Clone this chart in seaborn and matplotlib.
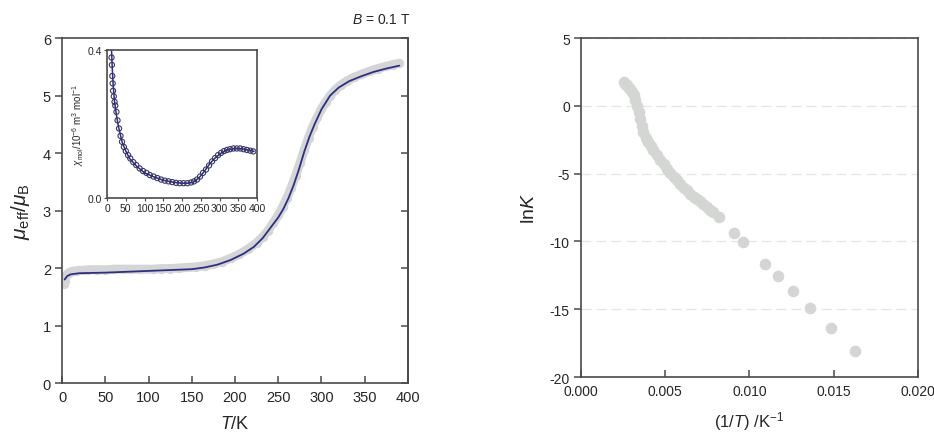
import numpy as np
import pandas as pd
import matplotlib
matplotlib.use("Agg")
import matplotlib.pyplot as plt
import seaborn as sns

# main panel: effective magnetic moment vs temperature (data + fit)
T_data = [2, 3, 5, 8, 12, 16, 20, 25, 30, 40, 50, 60, 70, 80, 90, 105, 115, 125, 135, 145,
          155, 165, 175, 185, 195, 205, 215, 225, 232, 238, 244, 250, 255, 260, 265, 270,
          275, 280, 285, 290, 295, 300, 305, 310, 316, 322, 330, 338, 346, 355, 365, 375,
          383, 390]
mu_data = [1.72, 1.78, 1.88, 1.92, 1.94, 1.95, 1.96, 1.96, 1.97, 1.97, 1.97, 1.98, 1.98,
           1.98, 1.98, 1.98, 1.99, 1.99, 2.00, 2.01, 2.02, 2.04, 2.07, 2.11, 2.17, 2.24,
           2.33, 2.44, 2.54, 2.65, 2.78, 2.92, 3.06, 3.22, 3.40, 3.60, 3.82, 4.05, 4.27,
           4.46, 4.62, 4.77, 4.89, 5.00, 5.10, 5.18, 5.26, 5.32, 5.37, 5.42, 5.47, 5.51,
           5.54, 5.56]

T_fit = [3, 6, 10, 20, 50, 100, 150, 165, 180, 195, 210, 222, 232, 242, 250, 256, 262, 268,
         274, 280, 286, 292, 300, 310, 320, 332, 345, 360, 375, 390]
mu_fit = [1.80, 1.86, 1.89, 1.91, 1.92, 1.95, 1.98, 2.01, 2.06, 2.14, 2.25, 2.37, 2.52,
          2.72, 2.88, 3.03, 3.22, 3.45, 3.72, 4.02, 4.28, 4.50, 4.76, 5.00, 5.14, 5.25,
          5.33, 5.41, 5.47, 5.52]

# inset: molar susceptibility vs temperature
T_chi = [12, 13, 14, 15, 16, 18, 20, 22, 25, 28, 32, 36, 40, 45, 50, 56, 62, 70, 78, 87,
         96, 105, 114, 124, 134, 144, 154, 164, 174, 184, 194, 204, 214, 224, 232, 240,
         248, 256, 264, 272, 280, 288, 296, 304, 312, 320, 328, 337, 346, 355, 364, 373,
         382, 390]
chi_data = [0.38, 0.36, 0.33, 0.31, 0.29, 0.275, 0.26, 0.25, 0.233, 0.21, 0.188, 0.168,
            0.152, 0.138, 0.127, 0.116, 0.107, 0.097, 0.089, 0.080, 0.073, 0.068, 0.062,
            0.058, 0.054, 0.050, 0.047, 0.045, 0.043, 0.041, 0.040, 0.040, 0.040, 0.042,
            0.045, 0.050, 0.058, 0.068, 0.077, 0.088, 0.099, 0.108, 0.116, 0.122, 0.127,
            0.130, 0.132, 0.134, 0.134, 0.134, 0.132, 0.130, 0.128, 0.126]
T_chi_fit = [8, 10, 12, 14, 16, 20, 25, 30, 40, 50, 60, 80, 100, 125, 150, 175, 200, 215,
             230, 245, 260, 275, 290, 305, 320, 340, 360, 380, 392]
chi_fit = [0.60, 0.48, 0.40, 0.35, 0.31, 0.26, 0.225, 0.195, 0.152, 0.127, 0.107, 0.085,
           0.068, 0.057, 0.048, 0.043, 0.040, 0.040, 0.043, 0.054, 0.073, 0.094, 0.110,
           0.122, 0.130, 0.134, 0.133, 0.129, 0.126]

# right panel: lnK vs 1/T
inv_T = [0.00253, 0.00262, 0.00272, 0.00282, 0.00292, 0.00302, 0.00312, 0.00322, 0.00332,
         0.00342, 0.00351, 0.00361, 0.00371, 0.00385, 0.00400, 0.00415, 0.00430, 0.00450,
         0.00470, 0.00490, 0.00509, 0.00530, 0.00550, 0.00569, 0.00590, 0.00610, 0.00628,
         0.00650, 0.00670, 0.00687, 0.00705, 0.00725, 0.00746, 0.00766, 0.00786, 0.00817,
         0.00910, 0.00963, 0.01092, 0.01167, 0.01256, 0.01362, 0.01483, 0.01629]
lnK = [1.76, 1.65, 1.52, 1.39, 1.22, 1.02, 0.77, 0.42, 0.03, -0.48, -0.95, -1.45, -1.93,
       -2.35, -2.65, -2.98, -3.25, -3.62, -3.98, -4.32, -4.64, -4.95, -5.23, -5.50, -5.76,
       -6.02, -6.23, -6.48, -6.70, -6.85, -7.05, -7.25, -7.46, -7.65, -7.83, -8.20, -9.36,
       -10.04, -11.64, -12.55, -13.66, -14.90, -16.39, -18.10]

sns.set_theme(style="ticks")
plt.rcParams['font.family'] = ['Liberation Sans', 'DejaVu Sans']
plt.rcParams['mathtext.fontset'] = 'custom'
plt.rcParams['mathtext.rm'] = 'Liberation Sans'
plt.rcParams['mathtext.it'] = 'Liberation Sans:italic'
plt.rcParams['mathtext.bf'] = 'Liberation Sans:bold'
plt.rcParams['axes.unicode_minus'] = False

gray = '#d3d6d3'
navy = '#2d2d8a'
spine_c = '#4a4a4a'

fig = plt.figure(figsize=(9.34, 4.35), dpi=100)
ax1 = fig.add_axes([0.0664, 0.1172, 0.3704, 0.793])
ax_in = fig.add_axes([0.1146, 0.5425, 0.1606, 0.340])
ax2 = fig.add_axes([0.622, 0.131, 0.3608, 0.779])

for a in (ax1, ax_in, ax2):
    for s in a.spines.values():
        s.set_color(spine_c)
        s.set_linewidth(1.2)

# main panel
df_main = pd.DataFrame({'T': T_data, 'mu': mu_data})
df_fit = pd.DataFrame({'T': T_fit, 'mu': mu_fit})
sns.lineplot(data=df_main, x='T', y='mu', ax=ax1, color=gray, linewidth=6.5,
             solid_capstyle='round', sort=False)
sns.scatterplot(data=df_main, x='T', y='mu', ax=ax1, color=gray, s=45, linewidth=0)
sns.lineplot(data=df_fit, x='T', y='mu', ax=ax1, color=navy, linewidth=1.3, sort=False)
ax1.set_xlim(0, 400)
ax1.set_ylim(0, 6)
ax1.set_xticks(range(0, 401, 50))
ax1.set_yticks(range(0, 7))
ax1.tick_params(axis='y', direction='out', length=5, width=1.1, color=spine_c,
                labelsize=10.5, pad=3)
ax1.tick_params(axis='x', direction='in', length=5, width=1.1, color=spine_c,
                labelsize=10.5, pad=5)
sec = ax1.secondary_yaxis('right')
sec.set_yticks(range(0, 7))
sec.tick_params(direction='in', length=5, width=1.1, color=spine_c, labelright=False)
sec.spines['right'].set_color(spine_c)
sec.spines['right'].set_linewidth(1.2)
ax1.set_xlabel(r'$T$/K', fontsize=13, labelpad=8)
ax1.set_ylabel(r'$\mu_{\rm eff}/\mu_{\rm B}$', fontsize=15, labelpad=8)
fig.text(0.408, 0.953, r'$B$ = 0.1 T', fontsize=10, ha='center', va='center')

# inset
df_chi = pd.DataFrame({'T': T_chi, 'chi': chi_data})
df_chi_fit = pd.DataFrame({'T': T_chi_fit, 'chi': chi_fit})
sns.lineplot(data=df_chi_fit, x='T', y='chi', ax=ax_in, color=navy, linewidth=1.1, sort=False)
sns.scatterplot(data=df_chi, x='T', y='chi', ax=ax_in, s=14, facecolor='none',
                edgecolor='#3a3a5a', linewidth=0.8)
ax_in.set_xlim(0, 400)
ax_in.set_ylim(0, 0.4)
ax_in.set_xticks(range(0, 401, 50))
ax_in.set_yticks([0.0, 0.4])
ax_in.set_yticklabels(['0.0', '0.4'])
ax_in.tick_params(axis='both', direction='out', length=2, width=0.8, color=spine_c,
                  labelsize=7.5, pad=1.5)
ax_in.set_xlabel('')
ax_in.set_ylabel(r'$\chi_{\rm mol}$/10$^{-6}$ m$^3$ mol$^{-1}$', fontsize=7, labelpad=1)

# right panel
df_k = pd.DataFrame({'invT': inv_T, 'lnK': lnK})
sns.scatterplot(data=df_k, x='invT', y='lnK', ax=ax2, color=gray, s=70, linewidth=0,
                zorder=3)
ax2.set_xlim(0, 0.02)
ax2.set_ylim(-20, 5)
ax2.set_xticks([0.0, 0.005, 0.010, 0.015, 0.020])
ax2.set_xticklabels(['0.000', '0.005', '0.010', '0.015', '0.020'])
ax2.set_yticks([5, 0, -5, -10, -15, -20])
ax2.yaxis.grid(True, linestyle=(0, (8, 4)), color='#e4e4e4', linewidth=0.9)
ax2.tick_params(axis='y', direction='out', length=5, width=1.1, color=spine_c,
                labelsize=10, pad=3)
ax2.tick_params(axis='x', direction='in', length=5, width=1.1, color=spine_c,
                labelsize=10, pad=5)
ax2.set_xlabel(r'(1/$T$) /K$^{-1}$', fontsize=12, labelpad=8)
ax2.set_ylabel(r'ln$K$', fontsize=14, labelpad=8)

fig.savefig('out.png', dpi=100, facecolor='white')
